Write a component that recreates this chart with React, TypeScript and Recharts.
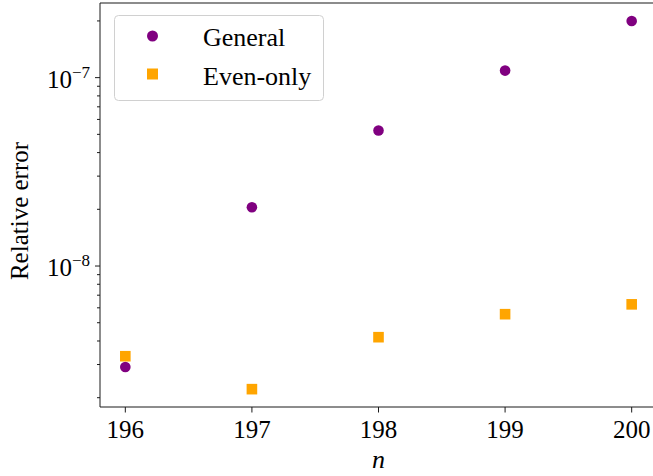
import React from "react";
import { ScatterChart, Scatter, XAxis, YAxis, Legend, ReferenceLine } from "recharts";

// values (log scale)
const nValues = [196, 197, 198, 199, 200];
const generalErrors = [2.91e-9, 2.05e-8, 5.24e-8, 1.09e-7, 2.0e-7];
const evenOnlyErrors = [3.32e-9, 2.22e-9, 4.19e-9, 5.55e-9, 6.26e-9];

const xTicks = [196, 197, 198, 199, 200];
const majorTicks = [1e-8, 1e-7];
const majorExponents = ["\u22128", "\u22127"];
const minorTicks = [
  2e-9, 3e-9, 4e-9, 5e-9, 6e-9, 7e-9, 8e-9, 9e-9,
  2e-8, 3e-8, 4e-8, 5e-8, 6e-8, 7e-8, 8e-8, 9e-8,
  2e-7,
];

const seriesNames = ["General", "Even-only"];
const seriesColors = ["#800080", "#ffa500"];

const FONT = "'Liberation Serif', 'Times New Roman', serif";
const SPINE = "#1a1a1a";
const Y_DOMAIN = [1.785e-9, 2.49e-7];

const generalData = nValues.map((n, i) => ({ n, err: generalErrors[i] }));
const evenOnlyData = nValues.map((n, i) => ({ n, err: evenOnlyErrors[i] }));
const yTicks = [...minorTicks, ...majorTicks].sort((a, b) => a - b);

// eslint-disable-next-line @typescript-eslint/no-explicit-any
const YTick = (props: any) => {
  const { x, y, payload } = props;
  const idx = majorTicks.indexOf(payload.value);
  const isMajor = idx >= 0;
  return (
    <g>
      <line
        x1={x - (isMajor ? 5 : 3)}
        x2={x}
        y1={y}
        y2={y}
        stroke={SPINE}
        strokeWidth={1}
      />
      {isMajor && (
        <text
          x={x - 10}
          y={y + 10}
          textAnchor="end"
          fontFamily={FONT}
          fontSize={25}
          fill="#000"
        >
          <tspan>10</tspan>
          <tspan dy={-10} fontSize={17}>
            {majorExponents[idx]}
          </tspan>
        </text>
      )}
    </g>
  );
};

// eslint-disable-next-line @typescript-eslint/no-explicit-any
const YLabel = (props: any) => {
  const vb = props.viewBox || { x: 0, y: 3, width: 100, height: 404 };
  const cx = vb.x + 28;
  const cy = vb.y + vb.height / 2 + 6;
  return (
    <text
      x={cx}
      y={cy}
      textAnchor="middle"
      transform={`rotate(-90, ${cx}, ${cy})`}
      fontFamily={FONT}
      fontSize={25}
      fill="#000"
    >
      Relative error
    </text>
  );
};

// eslint-disable-next-line @typescript-eslint/no-explicit-any
const XLabel = (props: any) => {
  const vb = props.viewBox || { x: 100, y: 407, width: 557, height: 69 };
  return (
    <text
      x={vb.x + vb.width / 2}
      y={vb.y + 61}
      textAnchor="middle"
      fontFamily={FONT}
      fontStyle="italic"
      fontSize={26}
      fill="#000"
    >
      n
    </text>
  );
};

const LegendBox = () => (
  <svg width={211} height={87} style={{ display: "block" }}>
    <rect
      x={0.5}
      y={0.5}
      width={209}
      height={85}
      rx={4}
      fill="#fff"
      fillOpacity={0.8}
      stroke="#d0d0d0"
      strokeWidth={1}
    />
    <circle cx={38.5} cy={21} r={5.5} fill={seriesColors[0]} />
    <rect x={33} y={53.5} width={11} height={11} fill={seriesColors[1]} />
    {seriesNames.map((name, i) => (
      <text
        key={name}
        x={89}
        y={31 + i * 38.5}
        fontFamily={FONT}
        fontSize={26}
        fill="#000"
      >
        {name}
      </text>
    ))}
  </svg>
);

// eslint-disable-next-line @typescript-eslint/no-explicit-any
const circleShape = (props: any) => (
  <circle cx={props.cx} cy={props.cy} r={5.3} fill={seriesColors[0]} />
);

// eslint-disable-next-line @typescript-eslint/no-explicit-any
const squareShape = (props: any) => (
  <rect
    x={props.cx - 5.3}
    y={props.cy - 5.3}
    width={10.6}
    height={10.6}
    fill={seriesColors[1]}
  />
);

export default function App() {
  return (
    <div
      style={{
        position: "absolute",
        left: 0,
        top: 0,
        width: 653,
        height: 476,
        overflow: "hidden",
        background: "#fff",
      }}
    >
      <ScatterChart
        width={660}
        height={476}
        margin={{ top: 3, right: 3, bottom: 0, left: 0 }}
      >
        <XAxis
          dataKey="n"
          type="number"
          domain={[195.8, 200.2]}
          allowDataOverflow
          ticks={xTicks}
          interval={0}
          height={69}
          stroke={SPINE}
          tickSize={5.5}
          tickMargin={8}
          tick={{ fill: "#000", fontSize: 25, fontFamily: FONT }}
          label={<XLabel />}
        />
        <YAxis
          dataKey="err"
          type="number"
          scale="log"
          domain={Y_DOMAIN}
          allowDataOverflow
          ticks={yTicks}
          interval={0}
          width={100}
          stroke={SPINE}
          tickLine={false}
          tickSize={0}
          tickMargin={0}
          tick={<YTick />}
          label={<YLabel />}
        />
        <ReferenceLine
          y={Y_DOMAIN[1]}
          stroke={SPINE}
          strokeWidth={1.2}
          ifOverflow="visible"
        />
        <Legend
          layout="vertical"
          align="center"
          verticalAlign="middle"
          wrapperStyle={{ left: 114, top: 15, width: 211, height: 87 }}
          content={<LegendBox />}
        />
        <Scatter
          name={seriesNames[0]}
          data={generalData}
          shape={circleShape}
          isAnimationActive={false}
        />
        <Scatter
          name={seriesNames[1]}
          data={evenOnlyData}
          shape={squareShape}
          isAnimationActive={false}
        />
      </ScatterChart>
    </div>
  );
}
